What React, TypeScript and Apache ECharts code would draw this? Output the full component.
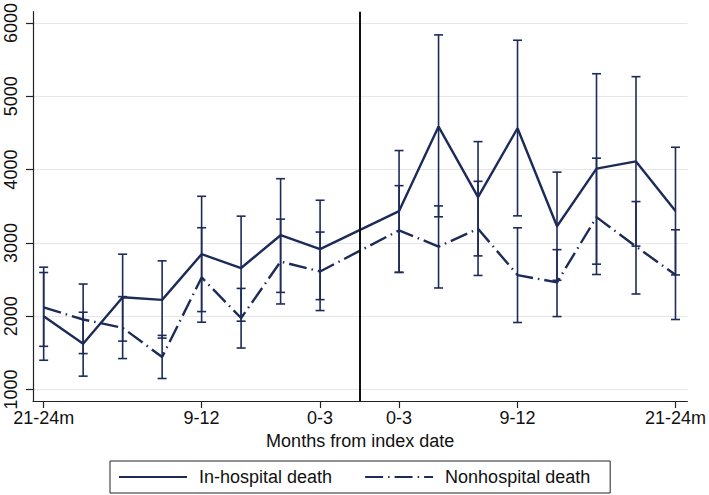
import React, { useEffect, useRef } from "react";
import * as echarts from "echarts";

const xValues = [1, 2, 3, 4, 5, 6, 7, 8, 10, 11, 12, 13, 14, 15, 16, 17];
const inHosp = [2000, 1625, 2258, 2223, 2846, 2657, 3105, 2915, 3434, 4587, 3624, 4564, 3227, 4013, 4112, 3434];
const inHospLow = [1399, 1182, 1660, 1701, 2063, 1932, 2325, 2226, 2600, 3356, 2823, 3369, 2490, 2710, 2956, 2563];
const inHospHigh = [2596, 2054, 2846, 2755, 3636, 3365, 3876, 3582, 4260, 5838, 4382, 5765, 3966, 5308, 5268, 4305];
const nonHosp = [2120, 1955, 1842, 1443, 2529, 1975, 2745, 2610, 3171, 2950, 3193, 2561, 2461, 3352, 2950, 2565];
const nonHospLow = [1589, 1490, 1422, 1150, 1918, 1566, 2167, 2077, 2596, 2385, 2556, 1914, 1995, 2569, 2303, 1955];
const nonHospHigh = [2669, 2439, 2267, 1738, 3207, 2379, 3324, 3148, 3781, 3505, 3840, 3206, 2908, 4156, 3564, 3179];
const xTickValues = [1, 5, 8, 10, 13, 17];
const xTickLabels = ["21-24m", "9-12", "0-3", "0-3", "9-12", "21-24m"];
const yTickValues = [1000, 2000, 3000, 4000, 5000, 6000];
const indexDateX = 9;

const NAVY = "#1d2b58";
const FONT = "Liberation Sans, Arial, sans-serif";

function errorBarRender(params: any, api: any) {
  const x = api.value(0);
  const lo = api.coord([x, api.value(1)]);
  const hi = api.coord([x, api.value(2)]);
  const hw = 4.5;
  const style = { stroke: NAVY, lineWidth: 1.6, fill: null };
  return {
    type: "group",
    children: [
      { type: "line", shape: { x1: lo[0], y1: lo[1], x2: hi[0], y2: hi[1] }, style },
      { type: "line", shape: { x1: lo[0] - hw, y1: lo[1], x2: lo[0] + hw, y2: lo[1] }, style },
      { type: "line", shape: { x1: hi[0] - hw, y1: hi[1], x2: hi[0] + hw, y2: hi[1] }, style },
    ],
  };
}

export default function App() {
  const ref = useRef<HTMLDivElement>(null);
  useEffect(() => {
    if (!ref.current) return;
    const chart = echarts.init(ref.current, null, { renderer: "svg" });
    const option: any = {
      animation: false,
      backgroundColor: "#ffffff",
      textStyle: { fontFamily: FONT },
      grid: { left: 33, top: 9, width: 655, height: 392, containLabel: false },
      xAxis: {
        type: "value",
        min: 0.73,
        max: 17.3,
        name: "Months from index date",
        nameLocation: "middle",
        nameGap: 27,
        nameTextStyle: { fontSize: 18, color: "#111", fontFamily: FONT },
        axisLine: { show: true, lineStyle: { color: "#222", width: 1.2 } },
        axisTick: { show: true, length: 7, customValues: xTickValues, lineStyle: { color: "#222", width: 1.2 } },
        axisLabel: {
          customValues: xTickValues,
          fontSize: 18,
          color: "#111",
          margin: 8,
          fontFamily: FONT,
          formatter: (v: number) => {
            const i = xTickValues.indexOf(v);
            return i >= 0 ? xTickLabels[i] : "";
          },
        },
        splitLine: { show: false },
      },
      yAxis: {
        type: "value",
        min: 843,
        max: 6155,
        axisLine: { show: true, lineStyle: { color: "#222", width: 1.2 } },
        axisTick: { show: true, length: 7, customValues: yTickValues, lineStyle: { color: "#222", width: 1.2 } },
        axisLabel: {
          customValues: yTickValues,
          rotate: 90,
          fontSize: 18,
          color: "#111",
          margin: 13,
          fontFamily: FONT,
          formatter: (v: number) => String(v),
        },
        splitLine: { show: true, lineStyle: { color: "#e6e6e6", width: 1.2 } },
      },
      legend: {
        left: 110,
        top: 461,
        orient: "horizontal",
        selectedMode: false,
        itemWidth: 68,
        itemHeight: 18,
        itemGap: 32,
        padding: [7, 20, 7, 8],
        borderColor: "#222",
        borderWidth: 1,
        itemStyle: { opacity: 0 },
        textStyle: { fontSize: 18, color: "#111", fontFamily: FONT, padding: [0, 0, 0, 7] },
        data: ["In-hospital death", "Nonhospital death"],
      },
      series: [
        {
          type: "custom",
          renderItem: errorBarRender,
          data: xValues.map((x, i) => [x, inHospLow[i], inHospHigh[i]]),
          encode: { x: 0, y: [1, 2] },
          z: 2,
          silent: true,
        },
        {
          type: "custom",
          renderItem: errorBarRender,
          data: xValues.map((x, i) => [x, nonHospLow[i], nonHospHigh[i]]),
          encode: { x: 0, y: [1, 2] },
          z: 2,
          silent: true,
        },
        {
          name: "In-hospital death",
          type: "line",
          data: xValues.map((x, i) => [x, inHosp[i]]),
          symbol: "none",
          showSymbol: false,
          color: NAVY,
          lineStyle: { color: NAVY, width: 2.4, type: "solid" },
          z: 3,
          markLine: {
            silent: true,
            symbol: ["none", "none"],
            label: { show: false },
            lineStyle: { color: "#111", width: 2, type: "solid" },
            data: [{ xAxis: indexDateX }],
          },
        },
        {
          name: "Nonhospital death",
          type: "line",
          data: xValues.map((x, i) => [x, nonHosp[i]]),
          symbol: "none",
          showSymbol: false,
          color: NAVY,
          lineStyle: { color: NAVY, width: 2.4, type: [18, 5, 1.5, 5], cap: "butt" },
          z: 3,
        },
      ],
    };
    chart.setOption(option);
    return () => chart.dispose();
  }, []);
  return (
    <div
      ref={ref}
      style={{ position: "fixed", left: 0, top: 0, width: 709, height: 495, background: "#fff" }}
    />
  );
}
